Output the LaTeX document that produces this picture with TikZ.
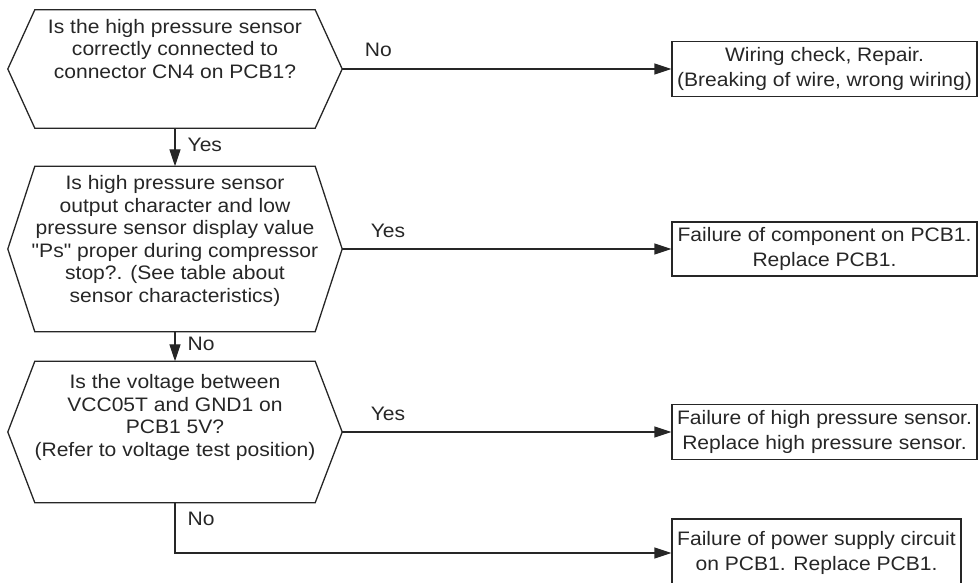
\documentclass[tikz,border=0pt]{standalone}
\usepackage{fontspec}
\setmainfont{Liberation Sans}[FakeStretch=1.08, Ligatures=TeXOff]
\usetikzlibrary{positioning,arrows.meta}
\definecolor{ink}{HTML}{262626}

\tikzset{
  decision/.style={rectangle, minimum width=334pt, minimum height=#1pt, inner sep=0pt},
  hexline/.style={draw=ink, line width=1.3pt, line join=miter},
  qtext/.style={align=center, inner sep=0pt, text=ink,
    font=\fontsize{19.5}{22.5}\selectfont},
  result/.style={draw=ink, line width=1.3pt, align=center, inner sep=2pt,
    text=ink, font=\fontsize{19.5}{24.5}\selectfont},
  flow/.style={draw=ink, line width=1.3pt, -{Triangle[length=17pt,width=11pt]}},
  lbl/.style={inner sep=0pt, text=ink, font=\fontsize{19.5}{22}\selectfont},
}

\begin{document}
\begin{tikzpicture}[x=1pt, y=-1pt]
\useasboundingbox (0,0) rectangle (978,583);
\clip (0,0) rectangle (978,583);

% questions
\node[decision=118] (q1) at (175,69) {};
\node[decision=165] (q2) at (175,249) {};
\node[decision=141] (q3) at (175,432) {};

\foreach \q in {q1,q2,q3}
    \draw[hexline] (\q.west) -- ([xshift=27pt]\q.north west) -- ([xshift=-27pt]\q.north east)
        -- (\q.east) -- ([xshift=-27pt]\q.south east) -- ([xshift=27pt]\q.south west) -- cycle;

\node[qtext, below=9pt of q1.north] (q1text) {Is the high pressure sensor\\
  correctly connected to\\ connector CN4 on PCB1?};
\node[qtext, below=9pt of q2.north] (q2text) {Is high pressure sensor\\
  output character and low\\ pressure sensor display value\\
  "Ps" proper during compressor\\ stop?. (See table about\\
  sensor characteristics)};
\node[qtext, below=13pt of q3.north] (q3text) {Is the voltage between\\
  VCC05T and GND1 on\\ PCB1 5V?\\ (Refer to voltage test position)};

% actions
\node[result, minimum width=305pt, minimum height=55pt] (a1) at (824.5,69)
  {Wiring check, Repair.\\ (Breaking of wire, wrong wiring)};
\node[result, minimum width=305pt, minimum height=54pt] (a2) at (824.5,249)
  {Failure of component on PCB1.\\ Replace PCB1.};
\node[result, minimum width=305pt, minimum height=55pt] (a3) at (824.5,432)
  {Failure of high pressure sensor.\\ Replace high pressure sensor.};
\node[result, minimum width=289pt, minimum height=68pt] (a4) at (816.5,553)
  {Failure of power supply circuit\\ on PCB1. Replace PCB1.};

% connectors
\draw[flow] (q1.east) -- node[lbl, pos=0, anchor=base west, xshift=22pt, yshift=12pt] {No} (a1.west);
\draw[flow] (q2.east) -- node[lbl, pos=0, anchor=base west, xshift=28pt, yshift=12pt] {Yes} (a2.west);
\draw[flow] (q3.east) -- node[lbl, pos=0, anchor=base west, xshift=28pt, yshift=12pt] {Yes} (a3.west);

\draw[flow] (q1.south) -- node[lbl, anchor=base west, xshift=12pt, yshift=-4pt] {Yes} (q2.north);
\draw[flow] (q2.south) -- node[lbl, anchor=base west, xshift=12pt, yshift=-4pt] {No} (q3.north);
\draw[flow] (q3.south) |- node[lbl, pos=0.25, anchor=base west, xshift=12pt, yshift=2pt] {No} (a4.west);

\end{tikzpicture}
\end{document}
